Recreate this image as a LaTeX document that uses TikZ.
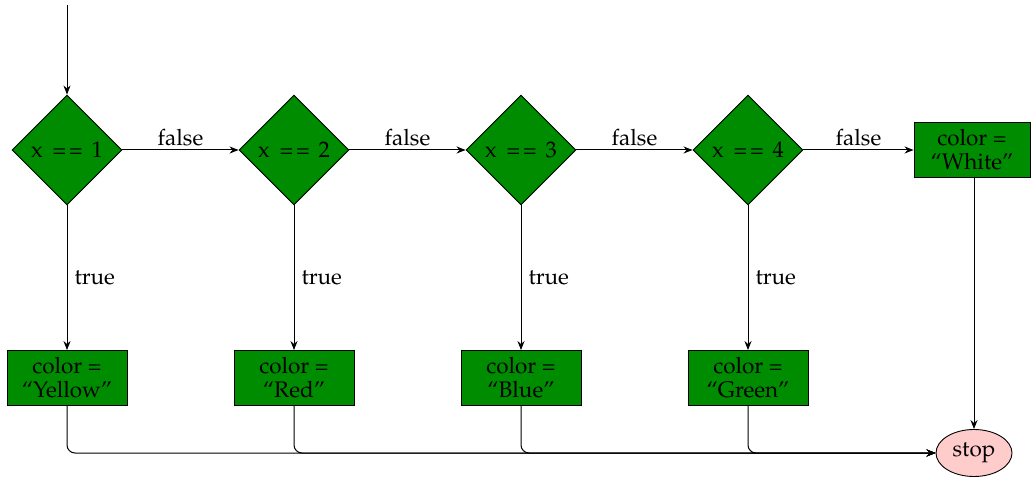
\documentclass[tikz,border=0pt]{standalone}
\usepackage[T1]{fontenc}
\usepackage{mathpazo}
\usetikzlibrary{shapes.geometric,arrows.meta}
\definecolor{boxgreen}{RGB}{0,140,0}
\definecolor{stoppink}{RGB}{255,204,204}
\newcommand{\cond}[1]{x\hspace{0.45em}=\hspace{0.12em}=\hspace{0.4em}#1}
\begin{document}
\begin{tikzpicture}[x=1pt,y=-1pt,
  font=\fontsize{22.5}{24}\selectfont,
  decision/.style={diamond, draw, fill=boxgreen, line width=0.9pt,
    minimum width=110pt, minimum height=110pt, inner sep=0pt},
  action/.style={rectangle, draw, fill=boxgreen, line width=0.9pt,
    minimum width=120pt, minimum height=55pt, align=center, inner sep=2pt},
  term/.style={ellipse, draw, fill=stoppink, line width=0.9pt,
    minimum width=76pt, minimum height=47pt, inner sep=0pt},
  flow/.style={draw, line width=1pt, -{Stealth[length=9pt,width=7pt]}},
  lbl/.style={inner sep=4pt},
  tlbl/.style={inner sep=7pt}]
\useasboundingbox (0,0) rectangle (1034,478);

% decisions
\node[decision] (d1) at (67,150) {\cond{1}};
\node[decision] (d2) at (294,150) {\cond{2}};
\node[decision] (d3) at (521,150) {\cond{3}};
\node[decision] (d4) at (748,150) {\cond{4}};

% assignments
\node[action] (a1) at (67,378) {color =\\``Yellow''};
\node[action] (a2) at (294,378) {color =\\``Red''};
\node[action] (a3) at (521,378) {color =\\``Blue''};
\node[action] (a4) at (748,378) {color =\\``Green''};
\node[action, minimum width=116pt] (a5) at (972,150) {color =\\``White''};

% end
\node[term] (stop) at (974,453) {stop};

% entry
\coordinate (entry) at (67,5);
\draw[flow] (entry) -- (d1);

% false branches
\draw[flow] (d1) -- node[lbl, above] {false} (d2);
\draw[flow] (d2) -- node[lbl, above] {false} (d3);
\draw[flow] (d3) -- node[lbl, above] {false} (d4);
\draw[flow] (d4) -- node[lbl, above] {false} (a5);

% true branches
\draw[flow] (d1) -- node[tlbl, right] {true} (a1);
\draw[flow] (d2) -- node[tlbl, right] {true} (a2);
\draw[flow] (d3) -- node[tlbl, right] {true} (a3);
\draw[flow] (d4) -- node[tlbl, right] {true} (a4);

% merge into stop
\foreach \n in {a1,a2,a3,a4}
  \draw[flow, rounded corners=8pt] (\n.south) |- (stop.west);
\draw[flow] (a5.south -| stop.north) -- (stop.north);
\end{tikzpicture}
\end{document}
